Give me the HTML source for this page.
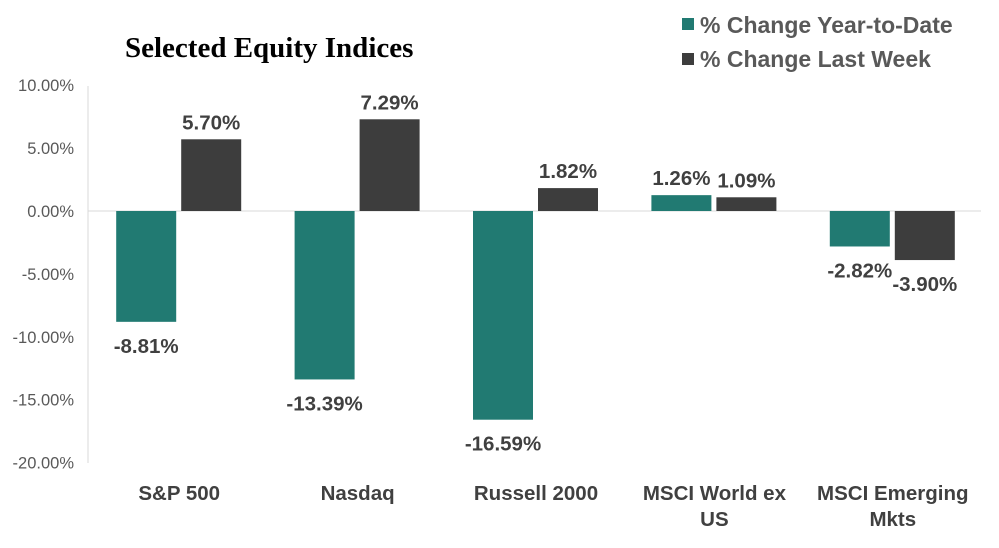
<!DOCTYPE html>
<html><head><meta charset="utf-8"><style>
body{margin:0;background:#fff;width:999px;height:543px;overflow:hidden;font-family:"Liberation Sans",Arial,sans-serif}
</style></head><body>
<svg width="999" height="543" xmlns="http://www.w3.org/2000/svg">
<text x="125" y="57" font-family="Liberation Serif,serif" font-weight="bold" font-size="29" fill="#000">Selected Equity Indices</text>
<g>
<rect x="682" y="18" width="12" height="12" fill="#217a72"/>
<text x="700" y="33" font-size="23" font-weight="bold" fill="#595959">% Change Year-to-Date</text>
<rect x="682" y="53" width="12" height="12" fill="#3d3d3d"/>
<text x="700" y="67" font-size="23" font-weight="bold" fill="#595959">% Change Last Week</text>
</g>
<g id="plot"></g>
</svg>
<script>
const categories=[["S&P 500"],["Nasdaq"],["Russell 2000"],["MSCI World ex","US"],["MSCI Emerging","Mkts"]];
const ytd=[-8.81,-13.39,-16.59,1.26,-2.82];
const week=[5.70,7.29,1.82,1.09,-3.90];
const ticks=[10,5,0,-5,-10,-15,-20];
const tickLabels=["10.00%","5.00%","0.00%","-5.00%","-10.00%","-15.00%","-20.00%"];
const NS="http://www.w3.org/2000/svg";
const g=document.getElementById('plot');
const y=v=>211-v*12.58;
const x0=90,cw=178.4;
const cx=i=>x0+cw*(i+0.5);
function el(t,a,txt){const e=document.createElementNS(NS,t);for(const k in a)e.setAttribute(k,a[k]);if(txt!=null)e.textContent=txt;g.appendChild(e);return e;}
let e=el('line',{x1:88,x2:88,y1:86,y2:463,stroke:'#d9d9d9','stroke-width':1});


ticks.forEach((t,i)=>{
 const tl=el('text',{x:74,y:y(t)+6,'text-anchor':'end','font-size':16.5,fill:'#595959'},tickLabels[i]);
 
 
});
e=el('line',{x1:88,x2:981,y1:y(0),y2:y(0),stroke:'#d9d9d9','stroke-width':1});


function lbl(v,xc){
 const yy=v>=0?y(v)-10:y(v)+31;
 const t=el('text',{x:xc,y:yy,'text-anchor':'middle','font-size':20.5,'font-weight':'bold',fill:'#404040'},v.toFixed(2)+'%');
 
 
}
categories.forEach((c,i)=>{
 const c0=cx(i);
 const a=ytd[i],b=week[i];
 const r1=el('rect',{x:c0-63,width:60,y:Math.min(y(a),y(0)),height:Math.abs(y(a)-y(0)),fill:'#217a72'});
 
 
 const r2=el('rect',{x:c0+2,width:60,y:Math.min(y(b),y(0)),height:Math.abs(y(b)-y(0)),fill:'#3d3d3d'});
 
 
 lbl(a,c0-33);lbl(b,c0+32);
 c.forEach((line,j)=>{
  const t=el('text',{x:c0,y:500+j*26,'text-anchor':'middle','font-size':20.5,'font-weight':'bold',fill:'#404040'},line);
  
  
 });
});
</script>
</body></html>
